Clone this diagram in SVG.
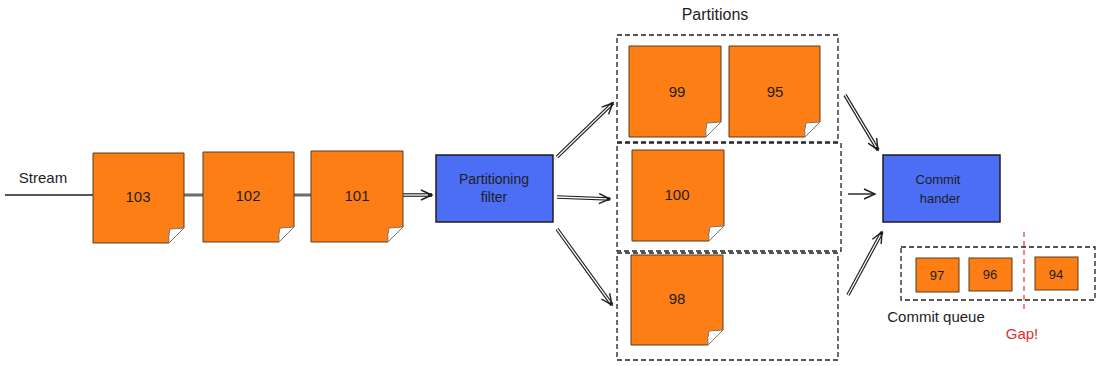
<svg xmlns="http://www.w3.org/2000/svg" width="1100" height="366" viewBox="0 0 1100 366">
<defs>
<style>
.note{fill:#fd7e14;stroke:#5a3a1a;stroke-width:1}
.fold{fill:#ffffff;stroke:#777;stroke-width:1}
.blue{fill:#4c6ef5;stroke:#1e1e1e;stroke-width:1.5}
.dash{fill:none;stroke:#1e1e1e;stroke-width:1.3;stroke-dasharray:5 3}
.red{fill:none;stroke:#e03131;stroke-width:1.2;stroke-dasharray:5 4}
.t{font-family:"Liberation Sans",Arial,sans-serif;fill:#1e1e1e;text-anchor:middle}
.o{stroke:#1e1e1e;stroke-width:3.6;fill:none}
.i{stroke:#ffffff;stroke-width:1.3;fill:none}
.s{stroke:#1e1e1e;stroke-width:1.4;fill:none}
</style>
<marker id="ah" markerUnits="userSpaceOnUse" markerWidth="14" markerHeight="14" refX="12" refY="6" orient="auto">
<path d="M1,1 L12,6 L1,11" fill="none" stroke="#1e1e1e" stroke-width="1.4"/>
</marker>
</defs>
<rect width="1100" height="366" fill="#ffffff"/>
<g id="connectors">
<line x1="5" y1="195" x2="94" y2="195" stroke="#1e1e1e" stroke-width="1.6"/>
<line x1="184" y1="195" x2="312" y2="195" stroke="#6b6b6b" stroke-width="3"/>
<line class="o" x1="403" y1="195" x2="432" y2="195" marker-end="url(#ah)"/>
<line class="i" x1="403" y1="195" x2="428" y2="195"/>
<line class="o" x1="557" y1="157" x2="613" y2="103" marker-end="url(#ah)"/>
<line class="i" x1="557" y1="157" x2="610.5" y2="105.4"/>
<line class="o" x1="557" y1="197" x2="610" y2="199" marker-end="url(#ah)"/>
<line class="i" x1="557" y1="197" x2="606.5" y2="198.9"/>
<line class="o" x1="557" y1="229" x2="612" y2="305" marker-end="url(#ah)"/>
<line class="i" x1="557" y1="229" x2="610" y2="302.2"/>
<line class="o" x1="845" y1="95" x2="878" y2="150" marker-end="url(#ah)"/>
<line class="i" x1="845" y1="95" x2="876.2" y2="147"/>
<line class="s" x1="848" y1="194" x2="875" y2="194" marker-end="url(#ah)"/>
<line class="o" x1="848" y1="295" x2="882" y2="232" marker-end="url(#ah)"/>
<line class="i" x1="848" y1="295" x2="880.4" y2="235"/>
</g>
<text class="t" x="43" y="183" font-size="15">Stream</text>
<g id="n103">
<path class="note" d="M93,153 H184 V228 L169,243 H93 Z"/>
<path class="fold" d="M184,228 L170,229 Q168,236 169,243 Z"/>
<text class="t" x="138" y="202" font-size="15">103</text>
</g>
<g id="n102">
<path class="note" d="M203,152 H294 V227 L279,242 H203 Z"/>
<path class="fold" d="M294,227 L280,228 Q278,235 279,242 Z"/>
<text class="t" x="248" y="201" font-size="15">102</text>
</g>
<g id="n101">
<path class="note" d="M311,151 H403 V227 L388,242 H311 Z"/>
<path class="fold" d="M403,227 L389,228 Q387,235 388,242 Z"/>
<text class="t" x="357" y="201" font-size="15">101</text>
</g>
<g id="filter">
<rect class="blue" x="436" y="155" width="117" height="67"/>
<text class="t" x="494" y="184" font-size="14">Partitioning</text>
<text class="t" x="494" y="202" font-size="14">filter</text>
</g>
<text class="t" x="715" y="20" font-size="16">Partitions</text>
<g id="part1">
<rect class="dash" x="617" y="35" width="221" height="107"/>
<g id="n99">
<path class="note" d="M629,46 H721 V122 L706,137 H629 Z"/>
<path class="fold" d="M721,122 L707,123 Q705,130 706,137 Z"/>
<text class="t" x="677" y="97" font-size="15">99</text>
</g>
<g id="n95">
<path class="note" d="M729,46 H820 V122 L805,137 H729 Z"/>
<path class="fold" d="M820,122 L806,123 Q804,130 805,137 Z"/>
<text class="t" x="775" y="97" font-size="15">95</text>
</g>
</g>
<g id="part2">
<rect class="dash" x="617" y="143" width="224" height="108"/>
<g id="n100">
<path class="note" d="M632,150 H724 V226 L709,241 H632 Z"/>
<path class="fold" d="M724,226 L710,227 Q708,234 709,241 Z"/>
<text class="t" x="677" y="200" font-size="15">100</text>
</g>
</g>
<g id="part3">
<rect class="dash" x="617" y="253" width="221" height="107"/>
<g id="n98">
<path class="note" d="M631,255 H723 V330 L708,345 H631 Z"/>
<path class="fold" d="M723,330 L709,331 Q707,338 708,345 Z"/>
<text class="t" x="677" y="304" font-size="15">98</text>
</g>
</g>
<g id="commit">
<rect class="blue" x="883" y="155" width="117" height="67"/>
<text class="t" x="938" y="184" font-size="13">Commit</text>
<text class="t" x="940" y="203" font-size="13">hander</text>
</g>
<g id="queue">
<rect class="dash" x="901" y="247" width="194" height="53" stroke="#444"/>
<g id="q97">
<rect class="note" x="916" y="258" width="43" height="34"/>
<text class="t" x="937" y="280" font-size="13">97</text>
</g>
<g id="q96">
<rect class="note" x="969" y="258" width="43" height="33"/>
<text class="t" x="990" y="279" font-size="13">96</text>
</g>
<g id="q94">
<rect class="note" x="1035" y="257" width="43" height="33"/>
<text class="t" x="1056" y="279" font-size="13">94</text>
</g>
<line class="red" x1="1024" y1="232" x2="1024" y2="313"/>
<text class="t" x="936" y="322" font-size="15">Commit queue</text>
<text class="t" x="1022" y="339" font-size="15" style="fill:#e03131">Gap!</text>
</g>
</svg>
